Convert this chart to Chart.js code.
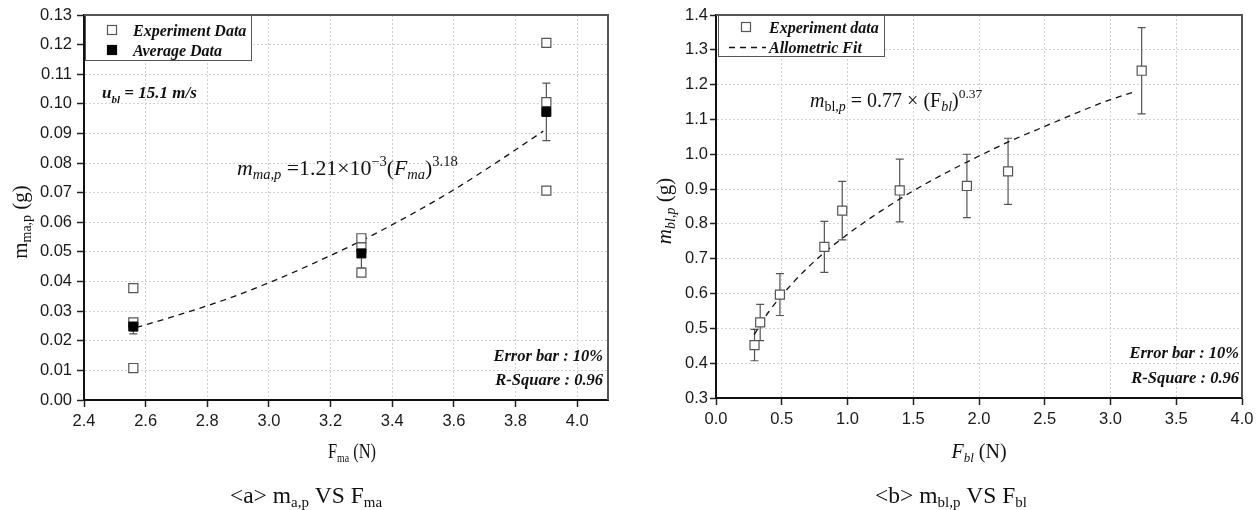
<!DOCTYPE html>
<html>
<head>
<meta charset="utf-8">
<script src="https://cdn.jsdelivr.net/npm/chart.js@4.4.1/dist/chart.umd.min.js"></script>
<style>
  html, body { margin:0; padding:0; background:#fff; }
  canvas { position:absolute; top:0; }
</style>
</head>
<body>
<canvas id="c1" width="630" height="510" style="left:0"></canvas>
<canvas id="c2" width="629" height="510" style="left:630px"></canvas>
<script>
// ---------- data: chart (a) ----------
const aExpX = [2.56, 2.56, 2.56, 3.30, 3.30, 3.30, 3.90, 3.90, 3.90];
const aExpY = [0.0378, 0.0262, 0.0108, 0.0546, 0.0515, 0.0430, 0.1206, 0.1006, 0.0707];
const aAvgX = [2.56, 3.30, 3.90];
const aAvgY = [0.0248, 0.0495, 0.0973];
const aAvgErr = [0.0025, 0.0050, 0.0097];
const aFitX = [2.57, 2.70, 2.85, 3.00, 3.15, 3.30, 3.45, 3.60, 3.75, 3.89];
const aFitY = [0.0245, 0.0285, 0.0336, 0.0396, 0.0464, 0.0538, 0.0620, 0.0710, 0.0810, 0.0908];
const aXTicks = [2.4, 2.6, 2.8, 3.0, 3.2, 3.4, 3.6, 3.8, 4.0];

// ---------- data: chart (b) ----------
const bExpX = [0.293, 0.336, 0.486, 0.824, 0.960, 1.397, 1.908, 2.221, 3.237];
const bExpY = [0.452, 0.517, 0.597, 0.734, 0.838, 0.896, 0.909, 0.951, 1.240];
const bErr  = [0.045, 0.052, 0.060, 0.073, 0.084, 0.090, 0.091, 0.095, 0.124];
const bFitX = [0.29, 0.40, 0.60, 0.80, 1.00, 1.25, 1.50, 1.75, 2.00, 2.25, 2.50, 2.75, 3.00, 3.19];
const bFitY = [0.482, 0.547, 0.637, 0.710, 0.770, 0.836, 0.895, 0.947, 0.995, 1.040, 1.080, 1.120, 1.157, 1.180];

const SERIF = '"Liberation Serif", "Times New Roman", serif';
const SANS = '"Liberation Sans", Arial, sans-serif';
const pts = (xs, ys) => xs.map((x, i) => ({x: x, y: ys[i]}));

function runs(ctx, x, y, list, align, sx) {
  sx = sx || 1;
  let total = 0;
  list.forEach(r => { ctx.font = r.f; r.w = ctx.measureText(r.t).width; total += r.w; });
  ctx.save();
  ctx.translate(x, y);
  ctx.scale(sx, 1);
  let cx = align === 'center' ? -total / 2 : (align === 'right' ? -total : 0);
  ctx.textAlign = 'left';
  ctx.textBaseline = 'alphabetic';
  list.forEach(r => { ctx.font = r.f; ctx.fillText(r.t, cx, (r.dy || 0)); cx += r.w; });
  ctx.restore();
}

function errorBarPlugin(xs, ys, es) {
  return {
    id: 'errbars',
    beforeDatasetsDraw(chart) {
      const ctx = chart.ctx, sx = chart.scales.x, sy = chart.scales.y;
      ctx.save();
      ctx.strokeStyle = '#555';
      ctx.lineWidth = 1.2;
      xs.forEach((xv, i) => {
        const px = sx.getPixelForValue(xv);
        const t = sy.getPixelForValue(ys[i] + es[i]);
        const b = sy.getPixelForValue(ys[i] - es[i]);
        ctx.beginPath();
        ctx.moveTo(px, t); ctx.lineTo(px, b);
        ctx.moveTo(px - 4, t); ctx.lineTo(px + 4, t);
        ctx.moveTo(px - 4, b); ctx.lineTo(px + 4, b);
        ctx.stroke();
      });
      ctx.restore();
    }
  };
}

function frame(chart) {
  const ctx = chart.ctx, a = chart.chartArea;
  ctx.save();
  ctx.strokeStyle = '#555';
  ctx.lineWidth = 2;
  ctx.beginPath();
  ctx.moveTo(a.left, a.top); ctx.lineTo(a.right, a.top); ctx.lineTo(a.right, a.bottom);
  ctx.stroke();
  ctx.restore();
}

function square(ctx, x, y, filled) {
  ctx.save();
  ctx.lineWidth = 1.2;
  ctx.strokeStyle = filled ? '#000' : '#555';
  ctx.fillStyle = filled ? '#000' : '#fff';
  ctx.fillRect(x - 4.5, y - 4.5, 9, 9);
  ctx.strokeRect(x - 4.5, y - 4.5, 9, 9);
  ctx.restore();
}

function axisCommon(stepSize, digits, tickLen, pad, fit) {
  return {
    type: 'linear',
    afterFit: fit,
    ticks: {
      stepSize: stepSize, includeBounds: false, autoSkip: false, maxRotation: 0,
      font: {family: SANS, size: 16.5}, color: '#1a1a1a', padding: pad,
      callback: v => Number(v).toFixed(digits)
    },
    grid: {color: '#d2d2d2', lineWidth: 1, tickColor: '#222', tickLength: tickLen, tickWidth: 1.5},
    border: {display: true, color: '#111', width: 2, dash: [2, 2]}
  };
}

// ---------- chart (a) ----------
const annotA = {
  id: 'annotA',
  afterDraw(chart) {
    const ctx = chart.ctx;
    frame(chart);
    ctx.save();
    // legend
    ctx.fillStyle = '#fff';
    ctx.fillRect(85, 15, 167, 46);
    ctx.strokeStyle = '#555'; ctx.lineWidth = 1;
    ctx.strokeRect(85.5, 15.5, 166, 45);
    square(ctx, 112, 30, false);
    square(ctx, 112, 50, true);
    ctx.fillStyle = '#111';
    runs(ctx, 133, 35.5, [{t: 'Experiment Data', f: 'bold italic 16px ' + SERIF}], 'left');
    runs(ctx, 133, 55.5, [{t: 'Average Data', f: 'bold italic 16px ' + SERIF}], 'left');
    // u_bl
    runs(ctx, 102, 98, [
      {t: 'u', f: 'bold italic 17px ' + SERIF},
      {t: 'bl', f: 'bold italic 11px ' + SERIF, dy: 5},
      {t: ' = 15.1 m/s', f: 'bold italic 17px ' + SERIF}
    ], 'left');
    // equation
    runs(ctx, 237, 175, [
      {t: 'm', f: 'italic 21.8px ' + SERIF},
      {t: 'ma,p', f: 'italic 14.5px ' + SERIF, dy: 4},
      {t: ' =1.21\u00d710', f: '21.8px ' + SERIF},
      {t: '\u22123', f: '14.5px ' + SERIF, dy: -9},
      {t: '(', f: '21.8px ' + SERIF},
      {t: 'F', f: 'italic 21.8px ' + SERIF},
      {t: 'ma', f: 'italic 14.5px ' + SERIF, dy: 4},
      {t: ')', f: '21.8px ' + SERIF},
      {t: '3.18', f: '14.5px ' + SERIF, dy: -9}
    ], 'left');
    // stats
    runs(ctx, 603, 360.5, [{t: 'Error bar : 10%', f: 'bold italic 16.5px ' + SERIF}], 'right');
    runs(ctx, 603, 385, [{t: 'R-Square : 0.96', f: 'bold italic 16.5px ' + SERIF}], 'right');
    // x title
    runs(ctx, 352, 458, [
      {t: 'F', f: '20px ' + SERIF},
      {t: 'ma', f: '12px ' + SERIF, dy: 4},
      {t: ' (N)', f: '20px ' + SERIF}
    ], 'center', 0.82);
    // y title
    ctx.save();
    ctx.translate(27, 222);
    ctx.rotate(-Math.PI / 2);
    runs(ctx, 0, 0, [
      {t: 'm', f: '21px ' + SERIF},
      {t: 'ma,p', f: '14px ' + SERIF, dy: 4},
      {t: ' (g)', f: '21px ' + SERIF}
    ], 'center');
    ctx.restore();
    // caption
    runs(ctx, 306, 503, [
      {t: '<a> m', f: '23.5px ' + SERIF},
      {t: 'a,p', f: '15px ' + SERIF, dy: 4},
      {t: ' VS F', f: '23.5px ' + SERIF},
      {t: 'ma', f: '15px ' + SERIF, dy: 4}
    ], 'center');
    ctx.restore();
  }
};

const axA_x = axisCommon(0.2, 1, 7, 5, s => { s.height = 40; });
axA_x.min = 2.4; axA_x.max = 4.1;
axA_x.afterBuildTicks = s => { s.ticks = aXTicks.map(v => ({value: v})); };
const axA_y = axisCommon(0.01, 2, 7, 5, s => { s.width = 84; });
axA_y.min = 0; axA_y.max = 0.13;

new Chart(document.getElementById('c1'), {
  type: 'scatter',
  data: {
    datasets: [
      {label: 'Average Data', data: pts(aAvgX, aAvgY), pointStyle: 'rect', pointRadius: 6.4,
       backgroundColor: '#000', borderColor: '#000', borderWidth: 1},
      {label: 'Experiment Data', data: pts(aExpX, aExpY), pointStyle: 'rect', pointRadius: 6.4,
       backgroundColor: '#fff', borderColor: '#555', borderWidth: 1.2},
      {label: 'Fit', data: pts(aFitX, aFitY), showLine: true, pointRadius: 0, borderColor: '#111',
       borderWidth: 1.3, borderDash: [6, 5], cubicInterpolationMode: 'monotone', fill: false}
    ]
  },
  options: {
    responsive: false, animation: false, devicePixelRatio: 1,
    layout: {padding: {left: 0, top: 15, right: 22, bottom: 70}},
    plugins: {legend: {display: false}, tooltip: {enabled: false}},
    scales: {x: axA_x, y: axA_y}
  },
  plugins: [errorBarPlugin(aAvgX, aAvgY, aAvgErr), annotA]
});

// ---------- chart (b) ----------
const annotB = {
  id: 'annotB',
  afterDraw(chart) {
    const ctx = chart.ctx;
    frame(chart);
    ctx.save();
    // legend
    ctx.fillStyle = '#fff';
    ctx.fillRect(88, 15, 167, 42);
    ctx.strokeStyle = '#555'; ctx.lineWidth = 1;
    ctx.strokeRect(88.5, 15.5, 166, 41);
    square(ctx, 116, 27, false);
    ctx.strokeStyle = '#111'; ctx.lineWidth = 1.3; ctx.setLineDash([6, 5]);
    ctx.beginPath(); ctx.moveTo(99, 47.5); ctx.lineTo(136, 47.5); ctx.stroke();
    ctx.setLineDash([]);
    ctx.fillStyle = '#111';
    runs(ctx, 139, 32.5, [{t: 'Experiment data', f: 'bold italic 16px ' + SERIF}], 'left');
    runs(ctx, 139, 52.5, [{t: 'Allometric Fit', f: 'bold italic 16px ' + SERIF}], 'left');
    // equation
    runs(ctx, 180, 107, [
      {t: 'm', f: 'italic 20px ' + SERIF},
      {t: 'bl,', f: '14px ' + SERIF, dy: 4},
      {t: 'p', f: 'italic 14px ' + SERIF, dy: 4},
      {t: ' = 0.77 \u00d7 (F', f: '20px ' + SERIF},
      {t: 'bl', f: 'italic 14px ' + SERIF, dy: 4},
      {t: ')', f: '20px ' + SERIF},
      {t: '0.37', f: '13.5px ' + SERIF, dy: -9}
    ], 'left');
    // stats
    runs(ctx, 609, 358, [{t: 'Error bar : 10%', f: 'bold italic 16.5px ' + SERIF}], 'right');
    runs(ctx, 609, 383, [{t: 'R-Square : 0.96', f: 'bold italic 16.5px ' + SERIF}], 'right');
    // x title
    runs(ctx, 349, 458, [
      {t: 'F', f: 'italic 20px ' + SERIF},
      {t: 'bl', f: 'italic 13px ' + SERIF, dy: 4},
      {t: ' (N)', f: '20px ' + SERIF}
    ], 'center');
    // y title
    ctx.save();
    ctx.translate(41, 211);
    ctx.rotate(-Math.PI / 2);
    runs(ctx, 0, 0, [
      {t: 'm', f: 'italic 21px ' + SERIF},
      {t: 'bl,p', f: 'italic 14px ' + SERIF, dy: 4},
      {t: ' (g)', f: '21px ' + SERIF}
    ], 'center');
    ctx.restore();
    // caption
    runs(ctx, 321, 503, [
      {t: '<b> m', f: '23.5px ' + SERIF},
      {t: 'bl,p', f: '15px ' + SERIF, dy: 4},
      {t: ' VS F', f: '23.5px ' + SERIF},
      {t: 'bl', f: '15px ' + SERIF, dy: 4}
    ], 'center');
    ctx.restore();
  }
};

const axB_x = axisCommon(0.5, 1, 7, 5, s => { s.height = 40; });
axB_x.min = 0; axB_x.max = 4;
const axB_y = axisCommon(0.1, 1, 6, 2, s => { s.width = 86; });
axB_y.min = 0.3; axB_y.max = 1.4;

new Chart(document.getElementById('c2'), {
  type: 'scatter',
  data: {
    datasets: [
      {label: 'Experiment data', data: pts(bExpX, bExpY), pointStyle: 'rect', pointRadius: 6.4,
       backgroundColor: '#fff', borderColor: '#555', borderWidth: 1.2},
      {label: 'Allometric Fit', data: pts(bFitX, bFitY), showLine: true, pointRadius: 0, borderColor: '#111',
       borderWidth: 1.3, borderDash: [6, 5], cubicInterpolationMode: 'monotone', fill: false}
    ]
  },
  options: {
    responsive: false, animation: false, devicePixelRatio: 1,
    layout: {padding: {left: 0, top: 15, right: 17, bottom: 72}},
    plugins: {legend: {display: false}, tooltip: {enabled: false}},
    scales: {x: axB_x, y: axB_y}
  },
  plugins: [errorBarPlugin(bExpX, bExpY, bErr), annotB]
});
</script>
</body>
</html>
